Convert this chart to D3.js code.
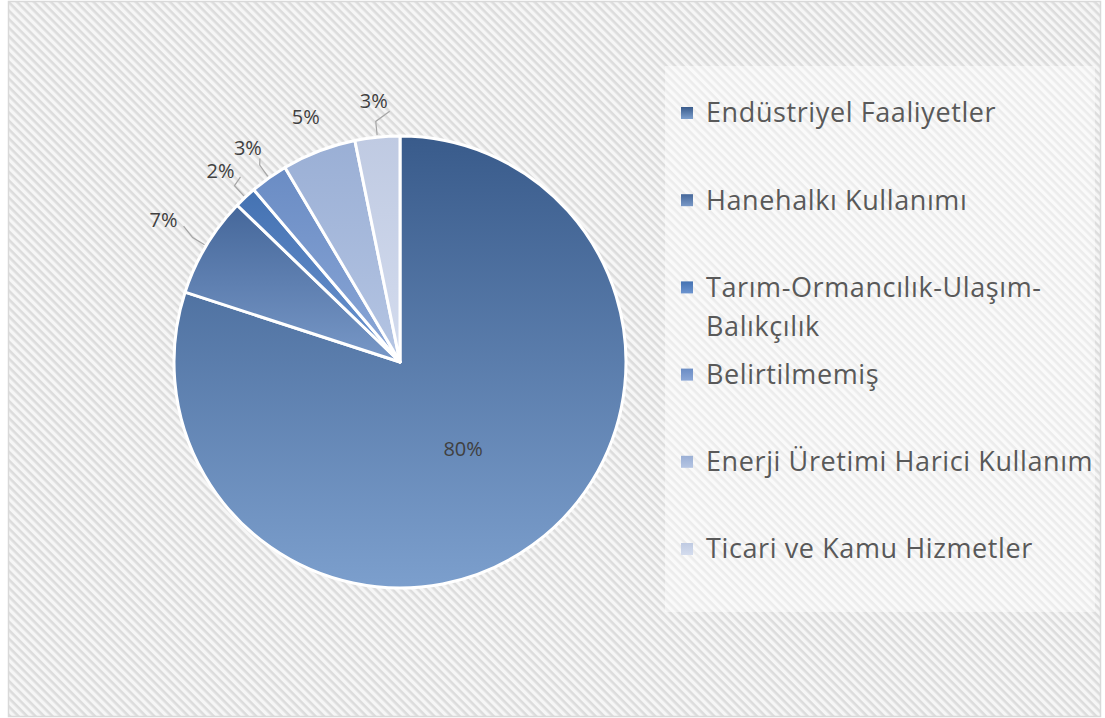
<!DOCTYPE html>
<html><head><meta charset="utf-8">
<script src="https://cdn.jsdelivr.net/npm/d3@7"></script>
<style>html,body{margin:0;padding:0;background:#fff;}svg{display:block;}</style>
</head><body>
<svg id="chart" width="1105" height="718"></svg>
<script>
const categories = ["Endüstriyel Faaliyetler","Hanehalkı Kullanımı","Tarım-Ormancılık-Ulaşım-Balıkçılık","Belirtilmemiş","Enerji Üretimi Harici Kullanım","Ticari ve Kamu Hizmetler"];
const legendLines = [["Endüstriyel Faaliyetler"],["Hanehalkı Kullanımı"],["Tarım-Ormancılık-Ulaşım-","Balıkçılık"],["Belirtilmemiş"],["Enerji Üretimi Harici Kullanım"],["Ticari ve Kamu Hizmetler"]];
const values = [80.0, 7.2, 1.6, 2.7, 5.3, 3.2];
const topColors = ["#395b8b","#45679a","#4472b2","#6a8cc4","#9aafd5","#bfcae2"];
const bottomColors = ["#7c9fcd","#7898c7","#6c94d0","#8ba7d7","#b5c5e3","#d4dcee"];

const svg = d3.select("#chart");
const defs = svg.append("defs");

// striped background pattern
const pat = defs.append("pattern").attr("id","stripes").attr("patternUnits","userSpaceOnUse")
  .attr("width",6).attr("height",6).attr("patternTransform","rotate(45)");
pat.append("rect").attr("width",6).attr("height",6).attr("fill","#f6f6f6");
pat.append("rect").attr("width",6).attr("height",2.6).attr("fill","#dcdcdc");

categories.forEach((c,i)=>{
  const gr = defs.append("linearGradient").attr("id","grad"+i).attr("x1",0).attr("y1",0).attr("x2",0).attr("y2",1);
  gr.append("stop").attr("offset","0%").attr("stop-color",topColors[i]);
  gr.append("stop").attr("offset","100%").attr("stop-color",bottomColors[i]);
});

svg.append("rect").attr("x",8.5).attr("y",1.5).attr("width",1092).attr("height",715)
  .attr("fill","url(#stripes)").attr("stroke","#d9d9d9").attr("stroke-width",1.5);

// legend box
svg.append("rect").attr("x",665).attr("y",66).attr("width",430).attr("height",546)
  .attr("fill","#ffffff").attr("opacity",0.45);

const cx = 400, cy = 362, R = 226;
const g = svg.append("g").attr("transform",`translate(${cx},${cy})`);
const pie = d3.pie().sort(null).value(d=>d);
const arcs = pie(values);
const arc = d3.arc().innerRadius(0).outerRadius(R);

g.selectAll("path.slice").data(arcs).enter().append("path")
  .attr("class","slice").attr("d",arc)
  .attr("fill",(d,i)=>`url(#grad${i})`)
  .attr("stroke","#ffffff").attr("stroke-width",3).attr("stroke-linejoin","round");

const fmt = v => Math.round(v) + "%";
const labelFont = "'Open Sans', Lato, sans-serif";

const inArc = d3.arc().innerRadius(0).outerRadius(R*0.95);
const outR = R*1.16;
arcs.forEach((d,i)=>{
  const mid = (d.startAngle + d.endAngle)/2;
  if (i === 0) {
    const [x,y] = inArc.centroid(d);
    g.append("text").attr("x",x).attr("y",y).attr("text-anchor","middle").attr("dy","0.35em")
      .attr("font-family",labelFont).attr("font-size",20).attr("fill","#404040").text(fmt(values[i]));
  } else {
    const rr = i === 1 ? R*1.22 : outR;
    const lx = rr*Math.sin(mid), ly = -rr*Math.cos(mid);
    g.append("text").attr("x",lx).attr("y",ly).attr("text-anchor","middle").attr("dy","0.35em")
      .attr("font-family",labelFont).attr("font-size",20).attr("fill","#404040").text(fmt(values[i]));
    if (i !== 4) {
      const p0 = [ (R+2)*Math.sin(mid), -(R+2)*Math.cos(mid) ];
      const r1 = R*1.07;
      const p1 = [ r1*Math.sin(mid), -r1*Math.cos(mid) ];
      const p2 = i === 5 ? [lx + 16, ly + 10] : (i === 3 ? [lx + 12, ly + 10] : [lx + 20, ly + 6]);
      g.append("path").attr("d", d3.line()([p0, p1, p2]))
        .attr("fill","none").attr("stroke","#a6a6a6").attr("stroke-width",1.2);
    }
  }
});

// legend
const yScale = d3.scalePoint().domain(categories).range([113, 549]);
const leg = svg.append("g");
categories.forEach((c,i)=>{
  const y = yScale(c);
  leg.append("rect").attr("x",681).attr("y",y-6).attr("width",12).attr("height",12)
    .attr("fill",`url(#grad${i})`);
  const t = leg.append("text").attr("x",706).attr("y",y)
    .attr("font-family",labelFont).attr("font-size",27).attr("letter-spacing",0.6).attr("fill","#595959");
  legendLines[i].forEach((ln,j)=>{
    t.append("tspan").attr("x",706).attr("dy", j===0 ? "0.35em" : 39).text(ln);
  });
});
</script>
</body></html>
